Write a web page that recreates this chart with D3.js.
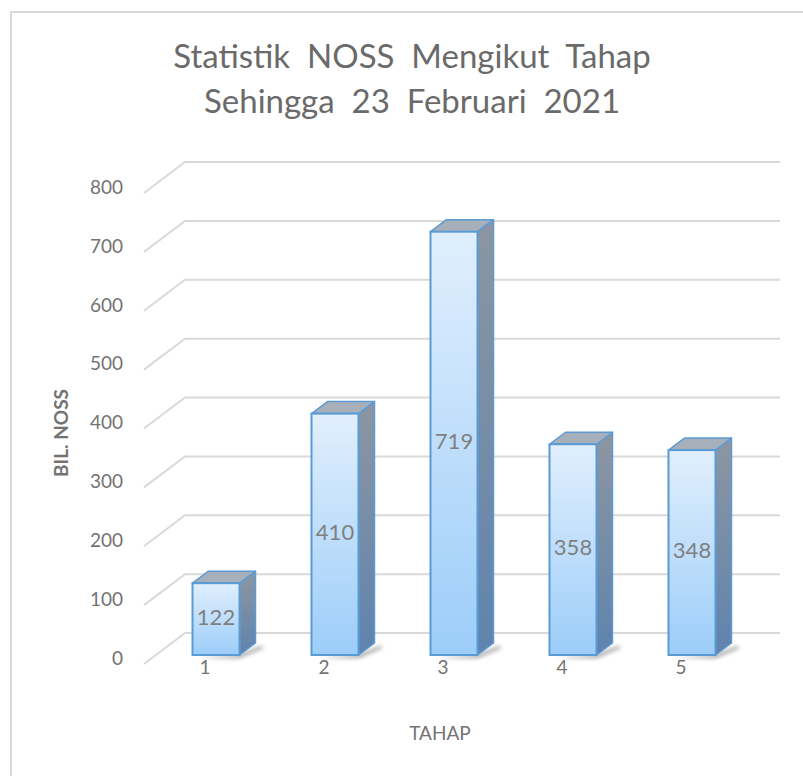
<!DOCTYPE html>
<html><head><meta charset="utf-8">
<script src="https://cdn.jsdelivr.net/npm/d3@7"></script>
<style>html,body{margin:0;padding:0;background:#fff;} svg{display:block;} text{font-family:Lato,"Open Sans",sans-serif;white-space:pre;}</style>
</head><body>
<div id="chart"></div>
<script>
const categories = ["1", "2", "3", "4", "5"];
const values = [122, 410, 719, 358, 348];
const yTicks = [0, 100, 200, 300, 400, 500, 600, 700, 800];
const titleLines = ["Statistik  NOSS  Mengikut  Tahap", "Sehingga  23  Februari  2021"];
const xTitle = "TAHAP";
const yTitle = "BIL. NOSS";

const W = 803, H = 776;
const svg = d3.select("#chart").append("svg").attr("width", W).attr("height", H);
const defs = svg.append("defs");

const gf = defs.append("linearGradient").attr("id", "gFront").attr("x1", 0).attr("y1", 0).attr("x2", 0).attr("y2", 1);
gf.append("stop").attr("offset", "0%").attr("stop-color", "#e1effd");
gf.append("stop").attr("offset", "100%").attr("stop-color", "#9ccdf9");
const gs = defs.append("linearGradient").attr("id", "gSide").attr("x1", 0).attr("y1", 0).attr("x2", 0).attr("y2", 1);
gs.append("stop").attr("offset", "0%").attr("stop-color", "#8d96a1");
gs.append("stop").attr("offset", "100%").attr("stop-color", "#5f83ad");
defs.append("filter").attr("id", "blur").attr("x", "-50%").attr("y", "-50%").attr("width", "200%").attr("height", "200%")
  .append("feGaussianBlur").attr("stdDeviation", 2);

// chart border
svg.append("path").attr("d", `M11,${H} L11,12 L${W},12`).attr("fill", "none").attr("stroke", "#d9d9d9").attr("stroke-width", 2);

// scales
const yBack = d3.scaleLinear().domain([0, 800]).range([633, 162]);
const x = d3.scalePoint().domain(categories).range([216, 692]);
const wallDX = 41, wallDY = 31;      // front edge of gridline relative to back wall
const barDY = 22;                    // bar front plane relative to back wall
const depthX = 16, depthY = -12;     // bar depth
const bw = 47;

// gridlines
svg.append("g").selectAll("path").data(yTicks).join("path")
  .attr("d", v => `M${185 - wallDX},${yBack(v) + wallDY} L185,${yBack(v)} L780,${yBack(v)}`)
  .attr("fill", "none").attr("stroke", "#d9d9d9").attr("stroke-width", 2);

// y tick labels
svg.append("g").selectAll("text").data(yTicks).join("text")
  .attr("x", 123).attr("y", v => yBack(v) + wallDY - 4)
  .attr("text-anchor", "end").attr("dominant-baseline", "middle")
  .attr("font-size", 19).attr("fill", "#737373")
  .text(d => d);

// bars
const bars = svg.append("g").selectAll("g").data(categories.map((c, i) => ({c, v: values[i]}))).join("g");
const fx = d => x(d.c) - bw / 2;
const y0 = yBack(0) + barDY;
const yt = d => yBack(d.v) + barDY;

// shadow
bars.append("path")
  .attr("d", d => {
    const r = fx(d) + bw;
    return `M${r - 2},${y0} L${r + depthX + 6},${y0 + depthY + 3} L${r + depthX + 8},${y0 + depthY + 5} L${r},${y0 + 3} L${fx(d) + 6},${y0 + 3} Z`;
  })
  .attr("fill", "#000").attr("opacity", 0.4).attr("filter", "url(#blur)");
// side
bars.append("path")
  .attr("d", d => {
    const r = fx(d) + bw;
    return `M${r},${yt(d)} L${r + depthX},${yt(d) + depthY} L${r + depthX},${y0 + depthY} L${r},${y0} Z`;
  })
  .attr("fill", "url(#gSide)").attr("stroke", "#5b9bd5").attr("stroke-width", 1.5).attr("stroke-linejoin", "round");
// top
bars.append("path")
  .attr("d", d => {
    const l = fx(d), r = l + bw, t = yt(d);
    return `M${l},${t} L${l + depthX},${t + depthY} L${r + depthX},${t + depthY} L${r},${t} Z`;
  })
  .attr("fill", "#a7b0ba").attr("stroke", "#5b9bd5").attr("stroke-width", 1.5).attr("stroke-linejoin", "round");
// front
bars.append("rect")
  .attr("x", fx).attr("y", yt).attr("width", bw).attr("height", d => y0 - yt(d))
  .attr("fill", "url(#gFront)").attr("stroke", "#5b9bd5").attr("stroke-width", 2);
// data labels
bars.append("text")
  .attr("x", d => x(d.c)).attr("y", d => (yt(d) + y0) / 2)
  .attr("text-anchor", "middle").attr("dominant-baseline", "middle")
  .attr("font-size", 22).attr("fill", "#7f7f7f")
  .text(d => d.v);

// x labels
svg.append("g").selectAll("text").data(categories).join("text")
  .attr("x", d => x(d) - 11).attr("y", 669)
  .attr("text-anchor", "middle").attr("dominant-baseline", "middle")
  .attr("font-size", 19).attr("fill", "#737373")
  .text(d => d);

// axis titles
svg.append("text").attr("x", 440).attr("y", 735).attr("text-anchor", "middle").attr("dominant-baseline", "middle")
  .attr("font-size", 19).attr("fill", "#737373").text(xTitle);
svg.append("text").attr("transform", "translate(63,433) rotate(-90)").attr("text-anchor", "middle").attr("dominant-baseline", "middle")
  .attr("font-size", 19).attr("font-weight", "bold").attr("fill", "#737373").text(yTitle);

// title
svg.append("g").selectAll("text").data(titleLines).join("text")
  .attr("x", 412).attr("y", (d, i) => 60 + i * 45)
  .attr("text-anchor", "middle").attr("dominant-baseline", "middle")
  .attr("font-size", 33).attr("fill", "#6a6a6a")
  .text(d => d);
</script>
</body></html>
